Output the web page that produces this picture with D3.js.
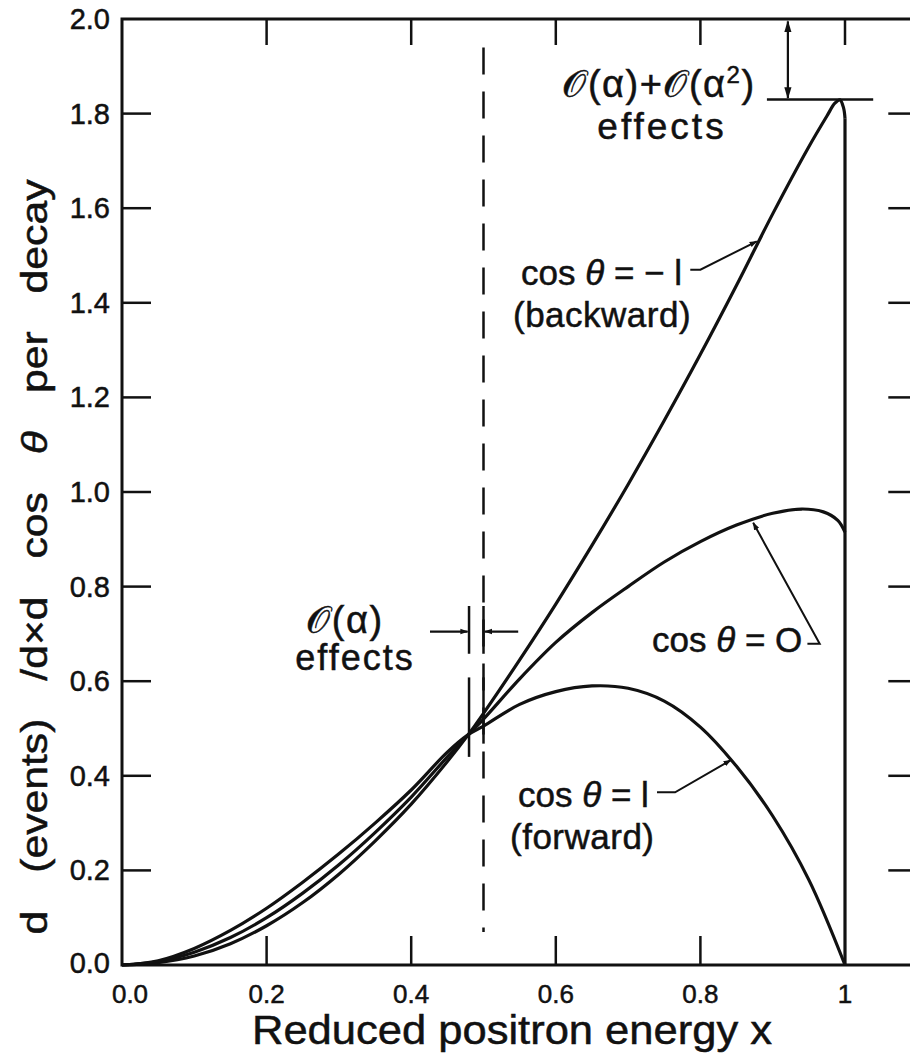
<!DOCTYPE html>
<html><head><meta charset="utf-8">
<script src="https://cdn.jsdelivr.net/npm/d3@7"></script>
<style>
body{margin:0;background:#fff}
text{font-family:"Liberation Sans",Arial,sans-serif;fill:#111;stroke:#111;stroke-width:0.5}
</style>
</head><body>
<svg id="chart" width="910" height="1057"></svg>
<script>
// ---- data ----
const xTickValues = [0, 0.2, 0.4, 0.6, 0.8, 1];
const xTickLabels = ["0.0", "0.2", "0.4", "0.6", "0.8", "1"];
const yTickValues = [0, 0.2, 0.4, 0.6, 0.8, 1.0, 1.2, 1.4, 1.6, 1.8, 2.0];
const yTickLabels = ["0.0", "0.2", "0.4", "0.6", "0.8", "1.0", "1.2", "1.4", "1.6", "1.8", "2.0"];

// cos θ = -1 (backward)
const xBackward = [0, 0.05, 0.1, 0.15, 0.2, 0.25, 0.3, 0.35, 0.4, 0.45, 0.479, 0.5, 0.55, 0.6, 0.65, 0.7, 0.75, 0.8, 0.85, 0.9, 0.95, 0.975, 0.986, 0.993, 0.998, 1.0];
const yBackward = [0, 0.005, 0.019, 0.045, 0.083, 0.132, 0.192, 0.262, 0.34, 0.43, 0.487, 0.532, 0.645, 0.763, 0.887, 1.016, 1.151, 1.291, 1.437, 1.588, 1.73, 1.795, 1.822, 1.829, 1.812, 1.79];
// vertical end-point drop at x = 1
const xEndDrop = [1.0, 1.0];
const yEndDrop = [1.79, 0];

// cos θ = 0
const xZero = [0, 0.05, 0.1, 0.15, 0.2, 0.25, 0.3, 0.35, 0.4, 0.45, 0.479, 0.5, 0.55, 0.6, 0.65, 0.7, 0.75, 0.8, 0.85, 0.9, 0.94, 0.97, 0.99, 1.0];
const yZero = [0, 0.007, 0.027, 0.058, 0.10, 0.152, 0.212, 0.28, 0.355, 0.44, 0.487, 0.52, 0.605, 0.682, 0.745, 0.80, 0.852, 0.895, 0.93, 0.955, 0.964, 0.958, 0.94, 0.915];

// cos θ = 1 (forward)
const xForward = [0, 0.05, 0.1, 0.15, 0.2, 0.25, 0.3, 0.35, 0.4, 0.45, 0.479, 0.5, 0.55, 0.6, 0.65, 0.7, 0.75, 0.8, 0.85, 0.9, 0.95, 1.0];
const yForward = [0, 0.009, 0.035, 0.073, 0.12, 0.175, 0.235, 0.30, 0.37, 0.45, 0.487, 0.505, 0.551, 0.578, 0.59, 0.585, 0.558, 0.503, 0.42, 0.315, 0.18, 0];

// ---- layout ----
const svg = d3.select("#chart");
const x = d3.scaleLinear().domain([0, 1]).range([122, 845]);
const y = d3.scaleLinear().domain([0, 2]).range([965, 19]);
const xRight = 1.1;   // right frame (just outside the picture)
const ink = "#111";

const g = svg.append("g");

// defs: arrowheads
const defs = svg.append("defs");
defs.append("marker").attr("id", "ah").attr("viewBox", "0 0 10 10").attr("refX", 9).attr("refY", 5)
  .attr("markerWidth", 8).attr("markerHeight", 8).attr("markerUnits", "userSpaceOnUse")
  .attr("orient", "auto-start-reverse")
  .append("path").attr("d", "M0,1.5 L10,5 L0,8.5 Z").attr("fill", ink);
defs.append("marker").attr("id", "ahBig").attr("viewBox", "0 0 10 10").attr("refX", 9).attr("refY", 5)
  .attr("markerWidth", 12).attr("markerHeight", 12).attr("markerUnits", "userSpaceOnUse")
  .attr("orient", "auto-start-reverse")
  .append("path").attr("d", "M0,2 L10,5 L0,8 Z").attr("fill", ink);

// frame
g.append("path")
  .attr("d", `M${x(xRight)},${y(2)} H${x(0)} V${y(0)} H${x(xRight)} Z`)
  .attr("fill", "none").attr("stroke", ink).attr("stroke-width", 3);

// ticks (inward) on all four sides
const tickLen = 29;
g.selectAll(".tb").data(xTickValues.filter(v => v > 0 && v < 1)).enter().append("line")
  .attr("x1", d => x(d)).attr("x2", d => x(d)).attr("y1", y(0)).attr("y2", y(0) - tickLen)
  .attr("stroke", ink).attr("stroke-width", 2.5);
g.selectAll(".tt").data(xTickValues.filter(v => v > 0)).enter().append("line")
  .attr("x1", d => x(d)).attr("x2", d => x(d)).attr("y1", y(2)).attr("y2", y(2) + 26)
  .attr("stroke", ink).attr("stroke-width", 2.5);
g.selectAll(".tl").data(yTickValues.filter(v => v > 0 && v < 2)).enter().append("line")
  .attr("x1", x(0)).attr("x2", x(0) + tickLen).attr("y1", d => y(d)).attr("y2", d => y(d))
  .attr("stroke", ink).attr("stroke-width", 2.5);
g.selectAll(".tr").data(yTickValues.filter(v => v > 0 && v < 2)).enter().append("line")
  .attr("x1", x(xRight)).attr("x2", x(xRight) - tickLen).attr("y1", d => y(d)).attr("y2", d => y(d))
  .attr("stroke", ink).attr("stroke-width", 2.5);

// tick labels
g.selectAll(".xl").data(xTickValues).enter().append("text")
  .attr("x", d => x(d) + (d === 0 ? 8 : 0)).attr("y", y(0) + 38)
  .attr("text-anchor", "middle").attr("font-size", 26)
  .text((d, i) => xTickLabels[i]);
g.selectAll(".yl").data(yTickValues).enter().append("text")
  .attr("x", x(0) - 12).attr("y", d => y(d) + 10 + (d === 0 ? -2 : 0))
  .attr("text-anchor", "end").attr("font-size", 29)
  .text((d, i) => yTickLabels[i]);

// axis titles
g.append("text").attr("x", 512).attr("y", 1044).attr("text-anchor", "middle")
  .attr("font-size", 40).attr("textLength", 520).attr("lengthAdjust", "spacingAndGlyphs")
  .text("Reduced positron energy x");
const yt = g.append("text").attr("transform", "translate(47,557) rotate(-90)")
  .attr("text-anchor", "middle").attr("font-size", 36).attr("word-spacing", 22)
  .attr("textLength", 755).attr("lengthAdjust", "spacingAndGlyphs");
yt.append("tspan").text("d (events) /d\u00d7d cos ");
yt.append("tspan").attr("font-style", "italic").text("\u03b8");
yt.append("tspan").text(" per decay");

// dashed line at x = 0.5
g.append("line").attr("x1", x(0.5)).attr("x2", x(0.5)).attr("y1", y(1.94)).attr("y2", y(0.07))
  .attr("stroke", ink).attr("stroke-width", 2.5).attr("stroke-dasharray", "27,17");

// curves
const line = d3.line().x(d => x(d[0])).y(d => y(d[1])).curve(d3.curveCatmullRom.alpha(0.5));
const zip = (a, b) => a.map((v, i) => [v, b[i]]);
[[xBackward, yBackward], [xZero, yZero], [xForward, yForward]].forEach(([xs, ys]) => {
  g.append("path").attr("d", line(zip(xs, ys))).attr("fill", "none")
    .attr("stroke", ink).attr("stroke-width", 3.2).attr("stroke-linejoin", "round");
});
g.append("path").attr("d", d3.line().x(d => x(d[0])).y(d => y(d[1]))(zip(xEndDrop, yEndDrop)))
  .attr("fill", "none").attr("stroke", ink).attr("stroke-width", 3.2);

// O(α)+O(α²) annotation at top
g.append("line").attr("x1", x(0.892)).attr("x2", x(1.039)).attr("y1", y(1.83)).attr("y2", y(1.83))
  .attr("stroke", ink).attr("stroke-width", 2.5);
g.append("line").attr("x1", x(0.921)).attr("x2", x(0.921)).attr("y1", y(1.995)).attr("y2", y(1.833))
  .attr("stroke", ink).attr("stroke-width", 2.2)
  .attr("marker-start", "url(#ahBig)").attr("marker-end", "url(#ahBig)");

const O = "\ud835\udcaa";
const t1 = g.append("text").attr("x", 659).attr("y", 97).attr("text-anchor", "middle").attr("font-size", 38)
  .attr("letter-spacing", 1.5);
t1.append("tspan").text(O + "(\u03b1)+" + O + "(\u03b1");
t1.append("tspan").attr("dy", -14).attr("font-size", 24).text("2");
t1.append("tspan").attr("dy", 14).text(")");
g.append("text").attr("x", 662).attr("y", 139).attr("text-anchor", "middle").attr("font-size", 37)
  .attr("letter-spacing", 3).text("effects");

// O(α) effects annotation
g.append("text").attr("x", 345).attr("y", 633).attr("text-anchor", "middle").attr("font-size", 38)
  .attr("letter-spacing", 1.5).text(O + "(\u03b1)");
g.append("text").attr("x", 355).attr("y", 670).attr("text-anchor", "middle").attr("font-size", 36)
  .attr("letter-spacing", 2).text("effects");
[[0.48, 0.759, 0.658], [0.5, 0.759, 0.658], [0.48, 0.608, 0.44], [0.5, 0.608, 0.468]].forEach(s => {
  g.append("line").attr("x1", x(s[0])).attr("x2", x(s[0])).attr("y1", y(s[1])).attr("y2", y(s[2]))
    .attr("stroke", ink).attr("stroke-width", 2.5);
});
g.append("line").attr("x1", x(0.426)).attr("x2", x(0.478)).attr("y1", y(0.705)).attr("y2", y(0.705))
  .attr("stroke", ink).attr("stroke-width", 2.2).attr("marker-end", "url(#ah)");
g.append("line").attr("x1", x(0.548)).attr("x2", x(0.502)).attr("y1", y(0.705)).attr("y2", y(0.705))
  .attr("stroke", ink).attr("stroke-width", 2.2).attr("marker-end", "url(#ah)");

// curve labels
function curveLabel(x0, yb, valueText, second) {
  const t = g.append("text").attr("x", x0).attr("y", yb).attr("font-size", 35);
  t.append("tspan").text("cos ");
  t.append("tspan").attr("font-style", "italic").text("\u03b8");
  t.append("tspan").text(valueText);
  if (second) g.append("text").attr("x", x0 - 8).attr("y", yb + 42).attr("font-size", 35)
    .attr("letter-spacing", 0.5).text(second);
}
curveLabel(521, 285, " = \u2212 l", "(backward)");
curveLabel(652, 652, " = O", null);
curveLabel(518, 807, " = l", "(forward)");

// pointer arrows
const lin = d3.line().x(d => x(d[0])).y(d => y(d[1]));
g.append("path").attr("d", lin([[0.786, 1.47], [0.80, 1.47], [0.878, 1.53]]))
  .attr("fill", "none").attr("stroke", ink).attr("stroke-width", 2).attr("marker-end", "url(#ah)");
g.append("path").attr("d", lin([[0.948, 0.679], [0.965, 0.679], [0.873, 0.935]]))
  .attr("fill", "none").attr("stroke", ink).attr("stroke-width", 2).attr("marker-end", "url(#ah)");
g.append("path").attr("d", lin([[0.74, 0.365], [0.765, 0.365], [0.842, 0.433]]))
  .attr("fill", "none").attr("stroke", ink).attr("stroke-width", 2).attr("marker-end", "url(#ah)");
</script>
</body></html>
